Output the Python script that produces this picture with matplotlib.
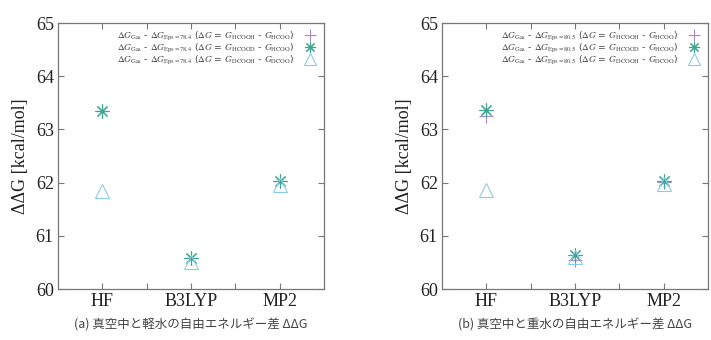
import matplotlib.pyplot as plt

plt.rcParams['mathtext.fontset'] = 'stix'

methods = ['HF', 'B3LYP', 'MP2']
x_pos = [1, 2, 3]

# (a) light water, Eps=78.4
a_hcooh = [63.35, 60.58, 62.03]
a_hcood = [63.35, 60.58, 62.03]
a_dcooh = [61.85, 60.50, 61.95]

# (b) heavy water, Eps=80.5
b_hcooh = [63.25, 60.55, 62.02]
b_hcood = [63.36, 60.63, 62.03]
b_dcooh = [61.87, 60.60, 61.98]

labels_a = [
    r'$\Delta G_{\rm Gas}$ - $\Delta G_{\rm Eps=78.4}$ ($\Delta G$ = $G_{\rm HCOOH}$ - $G_{\rm HCOO}$)',
    r'$\Delta G_{\rm Gas}$ - $\Delta G_{\rm Eps=78.4}$ ($\Delta G$ = $G_{\rm HCOOD}$ - $G_{\rm HCOO}$)',
    r'$\Delta G_{\rm Gas}$ - $\Delta G_{\rm Eps=78.4}$ ($\Delta G$ = $G_{\rm DCOOH}$ - $G_{\rm DCOO}$)',
]
labels_b = [
    r'$\Delta G_{\rm Gas}$ - $\Delta G_{\rm Eps=80.5}$ ($\Delta G$ = $G_{\rm HCOOH}$ - $G_{\rm HCOO}$)',
    r'$\Delta G_{\rm Gas}$ - $\Delta G_{\rm Eps=80.5}$ ($\Delta G$ = $G_{\rm HCOOD}$ - $G_{\rm HCOO}$)',
    r'$\Delta G_{\rm Gas}$ - $\Delta G_{\rm Eps=80.5}$ ($\Delta G$ = $G_{\rm DCOOH}$ - $G_{\rm DCOO}$)',
]
captions = ['(a) 真空中と軽水の自由エネルギー差 ΔΔG', '(b) 真空中と重水の自由エネルギー差 ΔΔG']

fig = plt.figure(figsize=(7.11, 3.4), dpi=100)
ax_a = fig.add_axes([0.0816, 0.15, 0.374, 0.782])
ax_b = fig.add_axes([0.6217, 0.15, 0.374, 0.782])

for ax, series, labels, cap in [(ax_a, [a_hcooh, a_hcood, a_dcooh], labels_a, captions[0]),
                                (ax_b, [b_hcooh, b_hcood, b_dcooh], labels_b, captions[1])]:
    ax.plot(x_pos, series[0], ls='none', marker='+', ms=10, mew=0.8, color='#a58ac8', label=labels[0])
    ax.plot(x_pos, series[1], ls='none', marker=(8, 2, 0), ms=10, mew=0.8, color='#3fa592', label=labels[1])
    ax.plot(x_pos, series[2], ls='none', marker='^', ms=10, mew=0.8, mfc='none', color='#8ccbe6', label=labels[2])

    ax.set_xlim(0.5, 3.5)
    ax.set_ylim(60, 65)
    ax.set_xticks([1, 1.5, 2, 2.5, 3])
    ax.set_xticklabels(['HF', '', 'B3LYP', '', 'MP2'])
    ax.set_yticks([60, 61, 62, 63, 64, 65])
    ax.tick_params(direction='in', top=True, right=True, length=4, color='#777777',
                   labelsize=13, pad=3)
    for lab in ax.get_xticklabels() + ax.get_yticklabels():
        lab.set_family('Liberation Serif')
        lab.set_color('#222222')
    for sp in ax.spines.values():
        sp.set_color('#777777')
        sp.set_linewidth(0.9)
    ax.set_ylabel('ΔΔG [kcal/mol]', family='Liberation Serif', fontsize=13, color='#222222', labelpad=5)

    leg = ax.legend(loc='upper right', frameon=False, markerfirst=False, fontsize=6.7,
                    handlelength=1.5, labelspacing=-0.1, handleheight=0.6, borderaxespad=0.3,
                    handletextpad=1.0, markerscale=0.8)
    for t in leg.get_texts():
        t.set_color('#444444')
    ax.text(0.5, -0.135, cap, transform=ax.transAxes, ha='center', va='center',
            family=['Noto Sans CJK JP', 'DejaVu Sans'], fontsize=9, color='#444444')

fig.savefig('out.png', dpi=100)
